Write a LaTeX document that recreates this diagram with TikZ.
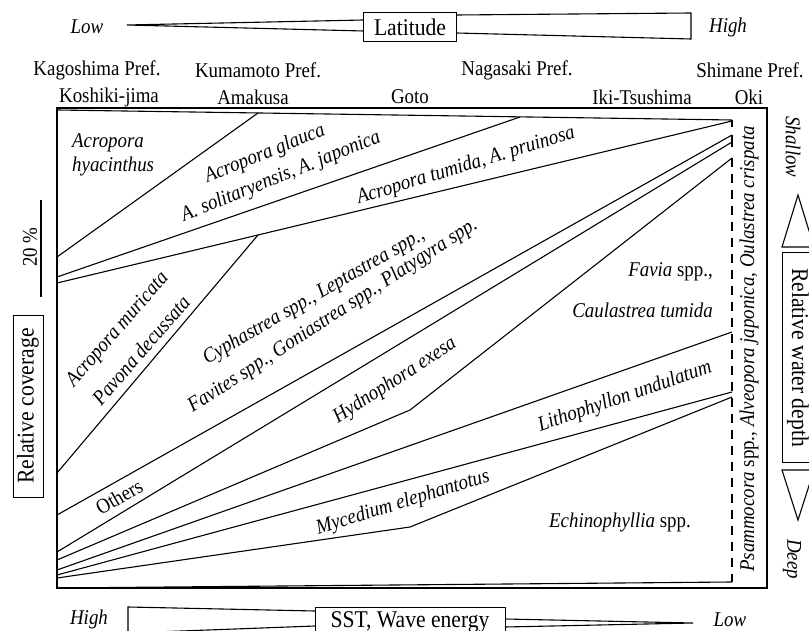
\documentclass[tikz,border=0pt]{standalone}
\usepackage{fontspec}
\setmainfont{Liberation Serif}[FakeStretch=0.9]
\usetikzlibrary{positioning}
\tikzset {
    style box/.style={
        draw=black,
        line width=1pt,
        rectangle, % framed axis title
        inner sep=2pt,
        font=\fontsize{24}{28}\selectfont,
    },
    style taxon/.style={
        font=\fontsize{21}{24}\selectfont\itshape,
        inner sep=0pt,
    },
    style site/.style={
        font=\fontsize{21}{24}\selectfont,
        inner sep=0pt,
    },
    style edge/.style={
        draw=black,
        line width=1.1pt,
    },
}

\begin{document}
\begin{tikzpicture}
        [x=1pt, y=-1pt, font=\fontsize{21}{24}\selectfont, line join=miter]
        \useasboundingbox (0,0) rectangle (809,631);

        % latitude axis
        \node[style taxon] at (87,27) (latLow) {Low};
        \node[style box, minimum width=93pt, minimum height=29pt] at (410,27) (lat) {Latitude};
        \node[style taxon] at (728,27) (latHigh) {High};
        \coordinate (latTip) at (127,25);
        \coordinate (latEndA) at (691,13);
        \coordinate (latEndB) at (691,39);
        \draw[style edge] (latTip) -- (363.5,20) (latTip) -- (363.5,31);
        \draw[style edge] (456.5,15) -- (latEndA) -- (latEndB) -- (456.5,33);

        % prefectures and islands
        \node[style site] at (97,70) (kago) {Kagoshima Pref.};
        \node[style site] at (258,70) (kuma) {Kumamoto Pref.};
        \node[style site] at (517,70) (naga) {Nagasaki Pref.};
        \node[style site] at (750,70) (shim) {Shimane Pref.};
        \node[style site] at (109,97) (kosh) {Koshiki-jima};
        \node[style site] at (253,97) (amak) {Amakusa};
        \node[style site] at (410,97) (goto) {Goto};
        \node[style site] at (642,97) (iki) {Iki-Tsushima};
        \node[style site] at (749,97) (oki) {Oki};

        % frame and zones
        \draw[style edge] (57,108) rectangle (767,588);
        \coordinate (apexTop) at (732,120);
        \coordinate (apexMid) at (732,392);
        \coordinate (apexBot) at (732,582);
        \coordinate (kinkA) at (410,410);
        \coordinate (kinkB) at (410,527);
        \coordinate (splitA) at (258,235);
        \draw[style edge] (57,110) -- (apexTop);
        \draw[style edge] (57,257) -- (258,113);
        \draw[style edge] (57,277) -- (520,117);
        \draw[style edge] (57,283) -- (splitA) -- (732,121);
        \draw[style edge] (57,473) -- (splitA);
        \draw[style edge] (57,515) -- (732,135);
        \draw[style edge] (57,552) -- (732,142);
        \draw[style edge] (57,560) -- (kinkA) -- (732,158);
        \draw[style edge] (57,570) -- (732,332);
        \draw[style edge] (57,575) -- (apexMid);
        \draw[style edge] (57,578) -- (kinkB) -- (732,397);
        \draw[style edge] (57,588) -- (apexBot);
        \draw[style edge] (apexTop) -- (732,127) (732,135) -- (732,147);
        \draw[style edge, dash pattern=on 9pt off 7pt] (732,158) -- (apexBot);

        % taxa
        \node[style taxon, anchor=west, align=left] at (72,155) (hyac) {Acropora\\hyacinthus};
        \node[style taxon, rotate=22] at (265,154) (glau) {Acropora glauca};
        \node[style taxon, rotate=22] at (281,177) (soli) {A. solitaryensis, A. japonica};
        \node[style taxon, rotate=17] at (466,166) (tumi) {Acropora tumida, A. pruinosa};
        \node[style taxon, rotate=49] at (118,330) (muri) {Acropora muricata};
        \node[style taxon, rotate=49] at (141,350) (pavo) {Pavona decussata};
        \node[style taxon, rotate=30] at (314,297) (cyph) {Cyphastrea spp., Leptastrea spp.,};
        \node[style taxon, rotate=33] at (333,316) (favi) {Favites spp., Goniastrea spp., Platygyra spp.};
        \node[style taxon, rotate=30] at (119,497) (othr) {\upshape Others};
        \node[style taxon, rotate=33] at (395,381) (hydn) {Hydnophora exesa};
        \node[style taxon, anchor=east] at (713,272) (favia) {Favia \upshape spp.,};
        \node[style taxon, anchor=east] at (713,310) (caul) {Caulastrea tumida};
        \node[style taxon, rotate=19] at (625,397) (lith) {Lithophyllon undulatum};
        \node[style taxon, rotate=17] at (403,503) (myce) {Mycedium elephantotus};
        \node[style taxon] at (620,522) (echi) {Echinophyllia \upshape spp.};
        \node[style taxon, rotate=90] at (749,349) (psam) {Psammocora \upshape spp., \itshape Alveopora japonica, Oulastrea crispata};

        % coverage scale
        \node[style site, rotate=90] at (30,247) (pct) {20 \%};
        \draw[style edge] (41,200) -- (41,297);
        \node[style box, rotate=90, minimum width=182pt, minimum height=30pt] at (28,406) (cover) {Relative coverage};

        % depth axis
        \node[style taxon, rotate=-90] at (793,147) (shal) {Shallow};
        \draw[style edge] (782,247) -- (798,195) -- (814,247) -- cycle;
        \node[style box, rotate=-90, minimum width=209pt, minimum height=32pt] at (798,357.5) (depth) {Relative water depth};
        \draw[style edge] (782,470) -- (798,520) -- (814,470) -- cycle;
        \node[style taxon, rotate=-90] at (792,559) (deep) {Deep};

        % SST axis
        \node[style taxon] at (89,619) (sstHigh) {High};
        \node[style box, minimum width=190pt, minimum height=30pt] at (410,622) (sst) {SST, Wave energy};
        \node[style taxon] at (730,620) (sstLow) {Low};
        \coordinate (sstTip) at (693,623);
        \coordinate (sstEndA) at (128,607);
        \coordinate (sstEndB) at (128,633);
        \draw[style edge] (315,611) -- (sstEndA) -- (sstEndB) -- (315,626);
        \draw[style edge] (505,619) -- (sstTip) -- (505,627);
    \end{tikzpicture}
\end{document}
